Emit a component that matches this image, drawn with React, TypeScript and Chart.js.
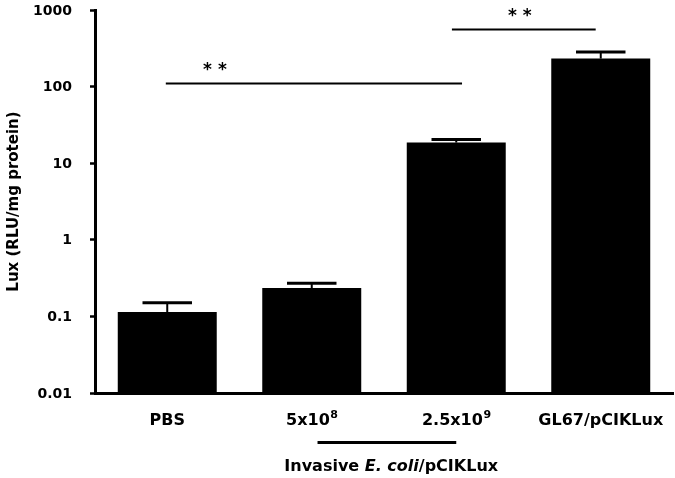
import React, { useEffect, useRef } from "react";
import { Chart, registerables } from "chart.js";

Chart.register(...registerables);

const categories = ["PBS", "5x10^8", "2.5x10^9", "GL67/pCIKLux"];
const labelBase = ["PBS", "5x10", "2.5x10", "GL67/pCIKLux"];
const labelSup = ["", "8", "9", ""];
const values = [0.114, 0.234, 18.6, 232];
const errorTops = [0.151, 0.27, 20.4, 282];
const yTicks = [0.01, 0.1, 1, 10, 100, 1000];
const yTickLabels = ["0.01", "0.1", "1", "10", "100", "1000"];
// significance brackets
const sigFrom = [-0.01, 1.97];
const sigTo = [2.04, 2.965];
const sigLevel = [111, 565];
const sigStarAt = [0.33, 2.44];
const sigText = ["* *", "* *"];
const groupFrom = 1.04;
const groupTo = 2.0;
const groupCenter = 1.55;

const FONT = "'DejaVu Sans', sans-serif";

const overlay = {
  id: "overlay",
  afterDatasetsDraw(chart: any) {
    const ctx = chart.ctx;
    const x = chart.scales.x;
    const y = chart.scales.y;
    ctx.save();
    ctx.strokeStyle = "#000";
    ctx.fillStyle = "#000";
    // y tick labels
    ctx.font = "bold 14px " + FONT;
    ctx.textAlign = "right";
    ctx.textBaseline = "middle";
    yTicks.forEach((v, i) => {
      ctx.fillText(yTickLabels[i], y.left + 72, y.getPixelForValue(v) + 1);
    });
    // error bars
    const meta = chart.getDatasetMeta(0);
    meta.data.forEach((bar: any, i: number) => {
      const cx = bar.x;
      const top = y.getPixelForValue(values[i]);
      const et = y.getPixelForValue(errorTops[i]);
      const halfCap = bar.width * 0.25;
      ctx.lineWidth = 2;
      ctx.beginPath();
      ctx.moveTo(cx, top);
      ctx.lineTo(cx, et);
      ctx.stroke();
      ctx.lineWidth = 3;
      ctx.beginPath();
      ctx.moveTo(cx - halfCap, et);
      ctx.lineTo(cx + halfCap, et);
      ctx.stroke();
    });
    // significance lines
    ctx.lineWidth = 2;
    ctx.font = "bold 17px " + FONT;
    ctx.textAlign = "center";
    ctx.textBaseline = "alphabetic";
    for (let i = 0; i < sigFrom.length; i++) {
      const yy = Math.round(y.getPixelForValue(sigLevel[i])) + 0.5;
      ctx.beginPath();
      ctx.moveTo(x.getPixelForValue(sigFrom[i]), yy);
      ctx.lineTo(x.getPixelForValue(sigTo[i]), yy);
      ctx.stroke();
      ctx.fillText(sigText[i], x.getPixelForValue(sigStarAt[i]), yy - 9);
    }
    // x labels
    const labelBaseline = chart.chartArea.bottom + 32;
    ctx.textBaseline = "alphabetic";
    for (let i = 0; i < categories.length; i++) {
      const cx = x.getPixelForValue(i);
      ctx.font = "bold 16px " + FONT;
      const w1 = ctx.measureText(labelBase[i]).width;
      ctx.font = "bold 11px " + FONT;
      const w2 = labelSup[i] ? ctx.measureText(labelSup[i]).width : 0;
      const start = cx - (w1 + w2) / 2;
      ctx.textAlign = "left";
      ctx.font = "bold 16px " + FONT;
      ctx.fillText(labelBase[i], start, labelBaseline);
      if (labelSup[i]) {
        ctx.font = "bold 11px " + FONT;
        ctx.fillText(labelSup[i], start + w1 + 0.5, labelBaseline - 7);
      }
    }
    // group line
    const gy = chart.chartArea.bottom + 49.5;
    ctx.lineWidth = 3;
    ctx.beginPath();
    ctx.moveTo(x.getPixelForValue(groupFrom), gy);
    ctx.lineTo(x.getPixelForValue(groupTo), gy);
    ctx.stroke();
    // group label with italic part
    const parts = [
      ["Invasive ", "bold 16px " + FONT],
      ["E. coli", "italic bold 16px " + FONT],
      ["/pCIKLux", "bold 16px " + FONT],
    ];
    let total = 0;
    const widths = parts.map((p) => {
      ctx.font = p[1];
      const w = ctx.measureText(p[0]).width;
      total += w;
      return w;
    });
    let gx = x.getPixelForValue(groupCenter) - total / 2;
    const gly = chart.chartArea.bottom + 78;
    ctx.textAlign = "left";
    parts.forEach((p, i) => {
      ctx.font = p[1];
      ctx.fillText(p[0], gx, gly);
      gx += widths[i];
    });
    ctx.restore();
  },
};

export default function App() {
  const ref = useRef<HTMLCanvasElement>(null);
  useEffect(() => {
    const chart = new Chart(ref.current!, {
      type: "bar",
      data: {
        labels: categories,
        datasets: [
          {
            data: values,
            backgroundColor: "#000",
            borderWidth: 0,
            categoryPercentage: 1,
            barPercentage: 0.685,
          },
        ],
      },
      options: {
        animation: false,
        responsive: false,
        layout: { padding: { top: 10, right: 2, left: 0, bottom: 0 } },
        plugins: { legend: { display: false }, tooltip: { enabled: false } },
        scales: {
          x: {
            type: "category",
            grid: { display: false, drawTicks: false },
            border: { color: "#000", width: 3 },
            ticks: { display: false },
            afterFit(scale: any) {
              scale.height = 85;
            },
          },
          y: {
            type: "logarithmic",
            min: 0.01,
            max: 1000,
            border: { color: "#000", width: 3 },
            grid: {
              drawOnChartArea: false,
              drawTicks: true,
              tickLength: 5,
              tickWidth: 2.5,
              color: "#000",
            },
            afterBuildTicks(scale: any) {
              scale.ticks = yTicks.map((v) => ({ value: v }));
            },
            ticks: { display: false },
            title: {
              display: true,
              text: "Lux (RLU/mg protein)",
              color: "#000",
              font: { family: FONT, size: 15, weight: "bold" },
              padding: { top: 5, bottom: 0 },
            },
            afterFit(scale: any) {
              scale.width = 95;
            },
          },
        },
      },
      plugins: [overlay],
    });
    return () => chart.destroy();
  }, []);
  return (
    <div style={{ position: "fixed", left: 0, top: 0, width: 675, height: 478, background: "#fff" }}>
      <canvas ref={ref} width={675} height={478} />
    </div>
  );
}
